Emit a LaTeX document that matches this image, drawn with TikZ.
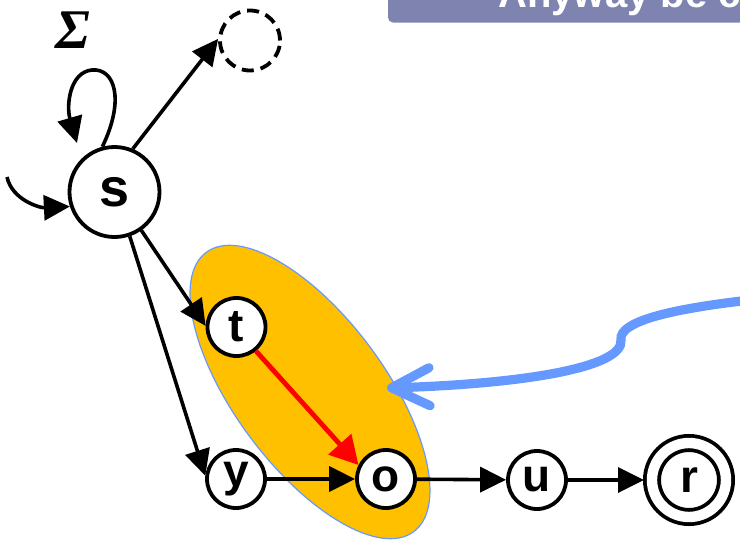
\documentclass[tikz,border=0pt]{standalone}
\usepackage{fontspec}
\usepackage{tikz}
\usetikzlibrary{arrows.meta}
\setmainfont{Liberation Sans}
\newfontfamily\sigmafont{Liberation Serif}
\definecolor{ellipseorange}{RGB}{255, 192, 0}
\definecolor{noteblue}{RGB}{102, 153, 255}
\definecolor{titlegray}{RGB}{126, 131, 176}

\begin{document}
\begin{tikzpicture}[x=0.5pt, y=-0.5pt,
        state/.style={circle, draw, line width=1.9pt, fill=white, inner sep=0pt, minimum size=29pt, font=\fontsize{23}{25}\selectfont\bfseries},
        arr/.style={line width=1.8pt, -{Triangle[length=13pt, width=12.5pt]}}]
        \useasboundingbox (0,0) rectangle (740,541);
        \clip (0,0) rectangle (740,541);

        % 标题栏
        \fill[titlegray, rounded corners=2.5pt] (388,-30) rectangle (780,22.5);
        \node[anchor=base west, inner sep=0pt, text=white, font=\fontsize{20}{24}\selectfont\bfseries] (title) at (498,7.5) {Anyway be c};

        % 橙色椭圆
        \draw[noteblue, line width=0.6pt, fill=ellipseorange, rotate around={-53.4:(310,392)}] (310,392) ellipse [x radius=87pt, y radius=37.5pt];

        % 状态
        \node[state, minimum size=45pt, font=\fontsize{27}{29}\selectfont\bfseries] (s) at (114.5,192) {s};
        \node[circle, draw, line width=1.9pt, dash pattern=on 6pt off 3.5pt, minimum size=30pt] (trap) at (250,40.5) {};
        \node[state] (t) at (236.5,327) {t};
        \node[state] (y) at (236,479) {y};
        \node[state] (o) at (386,479) {o};
        \node[state] (u) at (537,480) {u};
        \node[state, double, double distance=5.2pt, minimum size=37pt, outer sep=4pt] (r) at (689,480) {r};
        \node[font=\sigmafont\fontsize{28}{30}\selectfont\bfseries\itshape] (sigma) at (73,30.5) {Σ};

        % 初始箭头与自环
        \coordinate (init) at (7,177);
        \coordinate (loopend) at (77,143);
        \draw[arr] (init) .. controls (12,200) and (40,208) .. (s.198);
        \draw[arr] (s.105) .. controls (125,100) and (115,68) .. (92,70) .. controls (70,72) and (66,105) .. (loopend);

        % 转移
        \draw[arr] (s.67) -- (trap.177);
        \draw[arr] (s.-55) -- (t.178);
        \draw[arr] (s.-71) -- (y.174);
        \draw[arr] (y) -- (o);
        \draw[arr] (o) -- (u);
        \draw[arr] (u) -- (r);
        \draw[red, line width=2.4pt, -{Triangle[length=14pt, width=15pt]}] (t.-51) -- (o.153);

        % 蓝色说明箭头
        \coordinate (notestart) at (750,300);
        \coordinate (notetip) at (387,388);
        \draw[noteblue, line width=4.6pt, line cap=round, -{Straight Barb[length=19pt, width=19pt, round]}] (notestart) .. controls (680,308) and (618,320) .. (621,340) .. controls (624,368) and (520,384) .. (notetip);
    \end{tikzpicture}
\end{document}
